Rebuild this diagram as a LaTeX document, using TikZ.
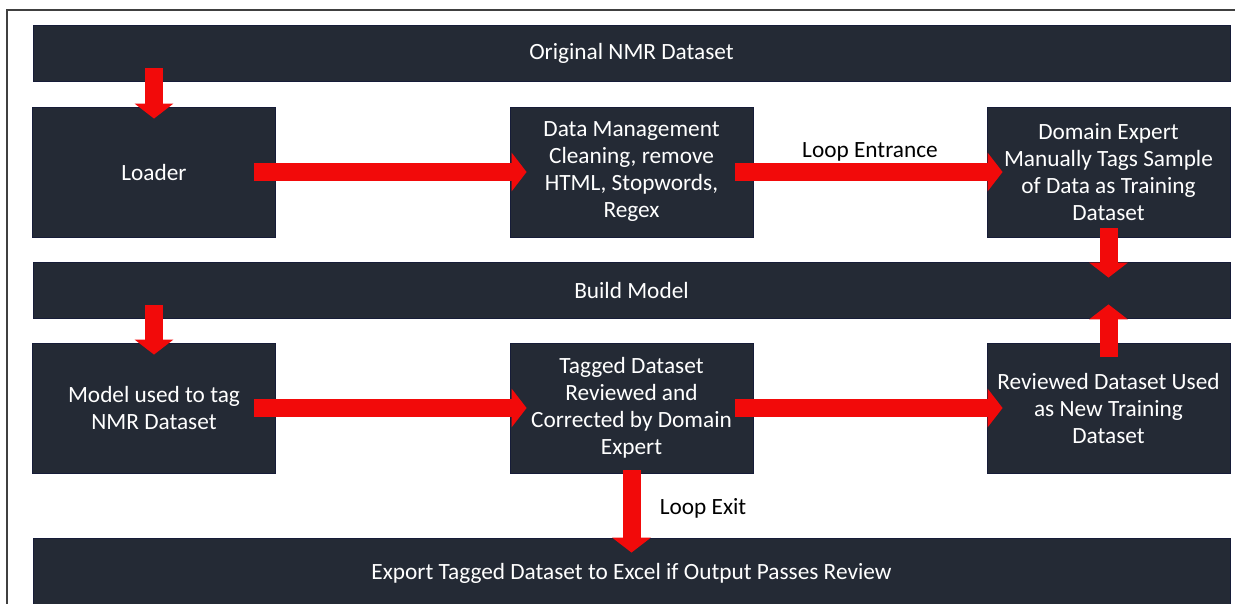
\documentclass[tikz,border=0pt]{standalone}
\usepackage{fontspec}
\setmainfont{Carlito}
\usetikzlibrary{arrows.meta}
\definecolor{boxfill}{HTML}{242A35}
\definecolor{boxline}{HTML}{161C38}
\definecolor{arrred}{HTML}{F20A0A}
\tikzset{
  box/.style={fill=boxfill, draw=boxline, line width=0.8pt, inner sep=0pt,
    text=white, align=center, font=\fontsize{23.3}{27}\selectfont},
  smallbox/.style={box, minimum width=243pt, minimum height=130pt},
  bar/.style={box, minimum width=1197pt, minimum height=56pt},
  arr/.style={draw=arrred, line width=18pt, -{Triangle[width=38pt,length=15pt]}},
  lbl/.style={font=\fontsize{23.3}{27}\selectfont, text=black}
}
\begin{document}
\begin{tikzpicture}[x=1pt,y=-1pt]
\useasboundingbox (0,0) rectangle (1235,604);
\clip (0,0) rectangle (1235,604);
\fill[white] (0,0) rectangle (1235,604);
\draw[black!75, line width=1.2pt] (7,700) -- (7,10) -- (1300,10);

\node[bar] (top) at (631.5,53) {Original NMR Dataset};
\node[smallbox] (loader) at (154,172) {Loader};
\node[smallbox] (dm) at (631.5,172) {Data Management\\Cleaning, remove\\HTML, Stopwords,\\Regex};
\node[smallbox] (de) at (1108.5,172) {Domain Expert\\Manually Tags Sample\\of Data as Training\\Dataset};
\node[bar] (bm) at (631.5,290) {Build Model};
\node[smallbox] (model) at (154,408) {Model used to tag\\NMR Dataset};
\node[smallbox] (tag) at (631.5,408) {Tagged Dataset\\Reviewed and\\Corrected by Domain\\Expert};
\node[smallbox] (rd) at (1108.5,408) {Reviewed Dataset Used\\as New Training\\Dataset};
\node[box, minimum width=1197pt, minimum height=70pt] (exp) at (631.5,573) {Export Tagged Dataset to Excel if Output Passes Review};

\draw[arr, shorten <=-13pt, shorten >=-12pt] (loader.north |- top.south) -- (loader.north);
\draw[arr, shorten <=-22pt, shorten >=-17pt] (loader.east) -- (dm.west);
\draw[arr, shorten <=-18pt, shorten >=-16pt] (dm.east) -- node[lbl, above=-2pt] (le) {Loop Entrance} (de.west);
\draw[arr, shorten <=-9pt, shorten >=-16pt] (de.south) -- (de.south |- bm.north);
\draw[arr, shorten <=-14pt, shorten >=-14pt] (rd.north) -- (rd.north |- bm.south);
\draw[arr, shorten <=-13pt, shorten >=-12pt] (model.north |- bm.south) -- (model.north);
\draw[arr, shorten <=-22pt, shorten >=-17pt] (model.east) -- (tag.west);
\draw[arr, shorten <=-18pt, shorten >=-16pt] (tag.east) -- (rd.west);
\draw[arr, shorten <=-3pt, shorten >=-15pt] (tag.south) -- node[lbl, right=16pt, pos=0.5, yshift=-3pt] (lx) {Loop Exit} (tag.south |- exp.north);
\end{tikzpicture}
\end{document}
